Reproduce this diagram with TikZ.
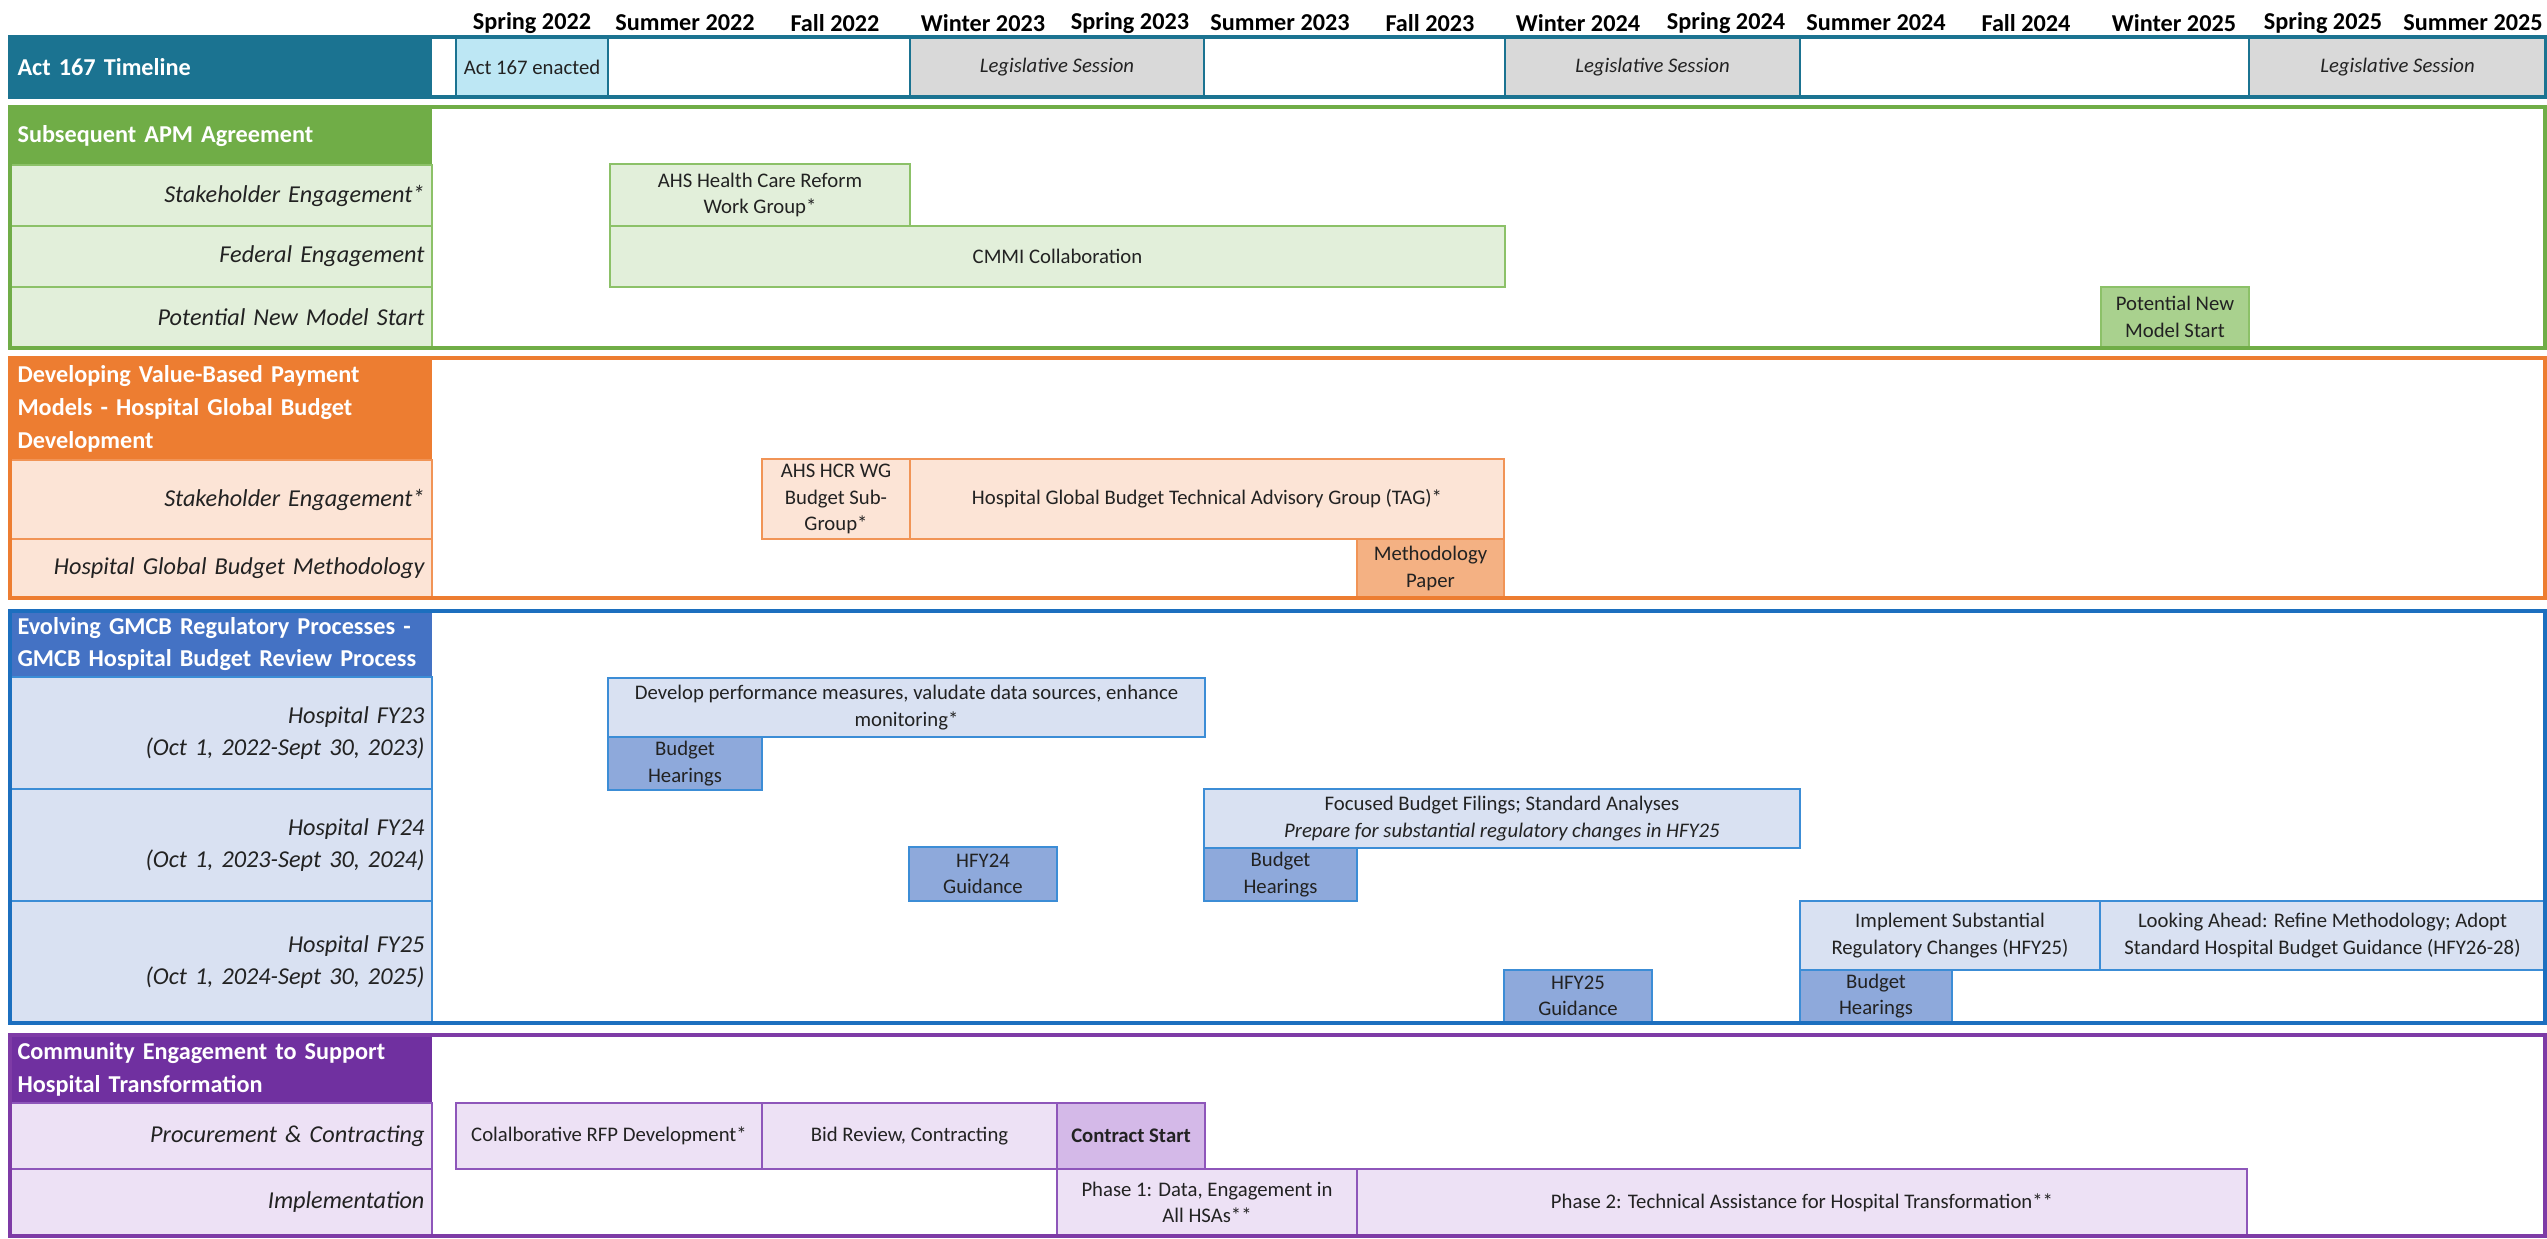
\documentclass[tikz,border=0pt]{standalone}
\usepackage{fontspec}
\setmainfont{Carlito}
\usepackage{tikz}

\definecolor{actteal}{HTML}{1B7391}
\definecolor{actlt}{HTML}{BDE7F4}
\definecolor{legray}{HTML}{D9D9D9}
\definecolor{grn}{HTML}{70AD47}
\definecolor{grnlt}{HTML}{E2EFDA}
\definecolor{grnln}{HTML}{8CC168}
\definecolor{grnmid}{HTML}{A9D18E}
\definecolor{org}{HTML}{ED7D31}
\definecolor{orglt}{HTML}{FCE4D6}
\definecolor{orgln}{HTML}{F19456}
\definecolor{orgmid}{HTML}{F4B183}
\definecolor{blu}{HTML}{4472C4}
\definecolor{bluframe}{HTML}{1C6FBF}
\definecolor{blult}{HTML}{D9E1F2}
\definecolor{bluln}{HTML}{3C8DD6}
\definecolor{blumid}{HTML}{8EA9DB}
\definecolor{pur}{HTML}{7030A0}
\definecolor{purframe}{HTML}{7E3BA6}
\definecolor{purlt}{HTML}{EDE1F5}
\definecolor{purln}{HTML}{8E56BA}
\definecolor{purmid}{HTML}{D4B9E8}
\definecolor{ink}{HTML}{222222}

\newcommand{\lblfont}{\fontsize{13.8}{18.7}\selectfont}
\newcommand{\barfont}{\fontsize{11.8}{15}\selectfont}

\begin{document}
\begin{tikzpicture}[x=0.02cm,y=-0.02cm,
	every node/.style={inner sep=0pt,outer sep=0pt,text=ink},
	span/.style n args={4}{minimum width={(#3-#1)*0.02cm},minimum height={(#4-#2)*0.02cm},
		at={({(#1+#3)/2},{(#2+#4)/2})}},
	frame/.style={draw=#1,line width=1.8pt},
	sechead/.style={fill=#1,text=white,font=\lblfont\bfseries,text width=8.14cm,align=left},
	rowlbl/.style={fill=#1,font=\lblfont\itshape,text width=8.14cm,align=right,line width=1.1pt},
	bar/.style={fill=#1,font=\barfont,align=center,line width=0.9pt},
	month/.style={font=\lblfont\bfseries,text=black}]
	\useasboundingbox (0,0) rectangle (2547,1239);
	%
	\foreach \m/\xc [count=\i] in {Spring 2022/532,Summer 2022/685,Fall 2022/835,Winter 2023/983,
		Spring 2023/1130,Summer 2023/1280,Fall 2023/1430,Winter 2024/1578,Spring 2024/1726,
		Summer 2024/1876,Fall 2024/2026,Winter 2025/2174,Spring 2025/2323,Summer 2025/2473}
		\node[month] (m\i) at (\xc,23) {\m};
	%
	\node[sechead=actteal,span={10}{37}{432}{97}] (acthd) {Act 167 Timeline};
	\node[bar=actlt,draw=actteal,span={456}{37}{608}{97}] (enact) {Act 167 enacted};
	\node[bar=legray,draw=actteal,font=\barfont\itshape,span={910}{37}{1204}{97}] (leg1) {Legislative Session};
	\node[bar=legray,draw=actteal,font=\barfont\itshape,span={1505}{37}{1800}{97}] (leg2) {Legislative Session};
	\node[bar=legray,draw=actteal,font=\barfont\itshape,span={2249}{37}{2546}{97}] (leg3) {Legislative Session};
	\draw[frame=actteal] (10,37) rectangle (2546,97);
	%
	\node[sechead=grn,span={10}{107}{432}{165}] (apmhd) {Subsequent APM Agreement};
	\node[rowlbl=grnlt,draw=grnln,span={10}{165}{432}{226}] (apmstake) {Stakeholder Engagement*};
	\node[rowlbl=grnlt,draw=grnln,span={10}{226}{432}{287}] (apmfed) {Federal Engagement};
	\node[rowlbl=grnlt,draw=grnln,span={10}{287}{432}{348}] (apmnew) {Potential New Model Start};
	\node[bar=grnlt,draw=grnln,span={610}{164}{910}{226}] (ahswg) {AHS Health Care Reform\\Work Group*};
	\node[bar=grnlt,draw=grnln,span={610}{226}{1505}{287}] (cmmi) {CMMI Collaboration};
	\node[bar=grnmid,draw=grnln,span={2101}{287}{2249}{347}] (newmodel) {Potential New\\Model Start};
	\draw[frame=grn] (10,107) rectangle (2545,348);
	%
	\node[sechead=org,span={10}{358}{432}{460}] (hgbhd) {Developing Value-Based Payment\\Models - Hospital Global Budget\\Development};
	\node[rowlbl=orglt,draw=orgln,span={10}{460}{432}{539}] (hgbstake) {Stakeholder Engagement*};
	\node[rowlbl=orglt,draw=orgln,span={10}{539}{432}{598}] (hgbmeth) {Hospital Global Budget Methodology};
	\node[bar=orglt,draw=orgln,span={762}{459}{910}{539}] (hcrsub) {AHS HCR WG\\Budget Sub-\\Group*};
	\node[bar=orglt,draw=orgln,span={910}{459}{1504}{539}] (tag) {Hospital Global Budget Technical Advisory Group (TAG)*};
	\node[bar=orgmid,draw=orgln,span={1357}{539}{1504}{598}] (methpaper) {Methodology\\Paper};
	\draw[frame=org] (10,358) rectangle (2545,598);
	%
	\node[sechead=blu,span={10}{611}{432}{677}] (gmcbhd) {Evolving GMCB Regulatory Processes -\\GMCB Hospital Budget Review Process};
	\node[rowlbl=blult,draw=bluln,span={10}{677}{432}{789}] (fy23) {Hospital FY23\\(Oct 1, 2022-Sept 30, 2023)};
	\node[rowlbl=blult,draw=bluln,span={10}{789}{432}{901}] (fy24) {Hospital FY24\\(Oct 1, 2023-Sept 30, 2024)};
	\node[rowlbl=blult,draw=bluln,span={10}{901}{432}{1023}] (fy25) {Hospital FY25\\(Oct 1, 2024-Sept 30, 2025)};
	\node[bar=blult,draw=bluln,span={608}{678}{1205}{737}] (perf) {Develop performance measures, valudate data sources, enhance\\monitoring*};
	\node[bar=blumid,draw=bluln,span={608}{737}{762}{790}] (hear23) {Budget\\Hearings};
	\node[bar=blumid,draw=bluln,span={909}{847}{1057}{901}] (guid24) {HFY24\\Guidance};
	\node[bar=blult,draw=bluln,span={1204}{789}{1800}{848}] (focus) {Focused Budget Filings; Standard Analyses\\\textit{Prepare for substantial regulatory changes in HFY25}};
	\node[bar=blumid,draw=bluln,span={1204}{848}{1357}{901}] (hear24) {Budget\\Hearings};
	\node[bar=blumid,draw=bluln,span={1504}{970}{1652}{1022}] (guid25) {HFY25\\Guidance};
	\node[bar=blult,draw=bluln,span={1800}{901}{2100}{970}] (implem) {Implement Substantial\\Regulatory Changes (HFY25)};
	\node[bar=blult,draw=bluln,span={2100}{901}{2545}{970}] (ahead) {Looking Ahead: Refine Methodology; Adopt\\Standard Hospital Budget Guidance (HFY26-28)};
	\node[bar=blumid,draw=bluln,span={1800}{970}{1952}{1022}] (hear25) {Budget\\Hearings};
	\draw[frame=bluframe] (10,611) rectangle (2545,1023);
	%
	\node[sechead=pur,span={10}{1035}{432}{1103}] (commhd) {Community Engagement to Support\\Hospital Transformation};
	\node[rowlbl=purlt,draw=purln,span={10}{1103}{432}{1169}] (procure) {Procurement \& Contracting};
	\node[rowlbl=purlt,draw=purln,span={10}{1169}{432}{1236}] (implrow) {Implementation};
	\node[bar=purlt,draw=purln,span={456}{1103}{762}{1169}] (rfp) {Colalborative RFP Development*};
	\node[bar=purlt,draw=purln,span={762}{1103}{1057}{1169}] (bidrev) {Bid Review, Contracting};
	\node[bar=purmid,draw=purln,font=\barfont\bfseries,span={1057}{1103}{1205}{1169}] (cstart) {Contract Start};
	\node[bar=purlt,draw=purln,span={1057}{1169}{1357}{1236}] (phase1) {Phase 1: Data, Engagement in\\All HSAs**};
	\node[bar=purlt,draw=purln,span={1357}{1169}{2247}{1236}] (phase2) {Phase 2: Technical Assistance for Hospital Transformation**};
	\draw[frame=purframe] (10,1035) rectangle (2545,1236);
\end{tikzpicture}
\end{document}
